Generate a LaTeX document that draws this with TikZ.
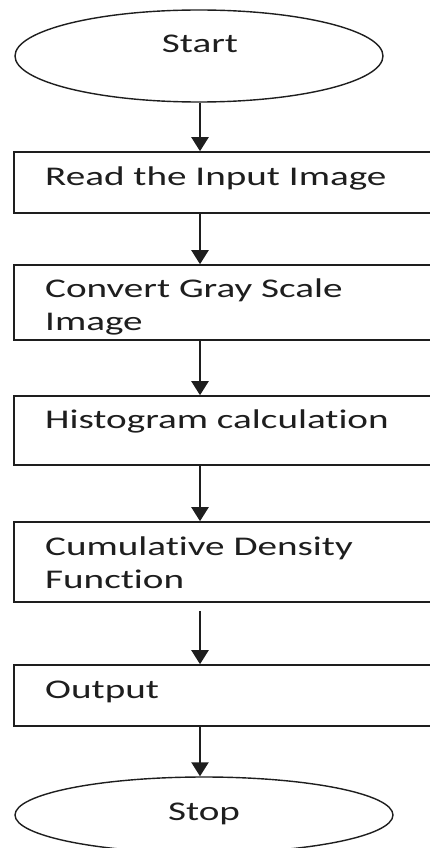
\documentclass[tikz,border=0pt]{standalone}
\usepackage{fontspec}
\setmainfont{Carlito}[Ligatures=NoCommon]
\usetikzlibrary{shapes.geometric,arrows.meta}
\newcommand{\widetxt}[1]{\scalebox{1.45}[1]{#1}}
\definecolor{ink}{HTML}{1E1E1E}
\tikzset{
  boxshape/.style={draw=ink, line width=1.6pt, rectangle, inner sep=0pt, minimum width=431pt},
  ovalshape/.style={draw=ink, line width=1.4pt, ellipse, inner sep=0pt},
  lbl/.style={inner sep=0pt, text=ink, font=\fontsize{27}{33}\selectfont, align=left, anchor=base west},
  clbl/.style={inner sep=0pt, text=ink, font=\fontsize{27}{33}\selectfont, anchor=base},
  flow/.style={draw=ink, line width=2.2pt, -{Triangle[width=17pt,length=14pt]}}
}
\begin{document}
\begin{tikzpicture}[x=1pt,y=-1pt]
\useasboundingbox (0,0) rectangle (430,848);
\clip (0,0) rectangle (430,848);
\fill[white] (0,0) rectangle (430,848);
% nodes
\node[ovalshape, minimum width=368pt, minimum height=92pt] (start) at (199,56) {};
\node[clbl] (startt) at (200,53) {\widetxt{Start}};
\node[boxshape, minimum height=61pt] (b1) at (229.5,182.5) {};
\node[lbl] (t1) at (45,185) {\widetxt{Read the Input Image}};
\node[boxshape, minimum height=75pt] (b2) at (229.5,302.5) {};
\node[lbl] (t2) at (45,330) {\widetxt{Convert Gray Scale}\\\widetxt{Image}};
\node[boxshape, minimum height=69pt] (b3) at (229.5,430.5) {};
\node[lbl] (t3) at (45,428) {\widetxt{Histogram calculation}};
\node[boxshape, minimum height=80pt] (b4) at (229.5,562) {};
\node[lbl] (t4) at (45,588) {\widetxt{Cumulative Density}\\\widetxt{Function}};
\node[boxshape, minimum height=61pt] (b5) at (229.5,695.5) {};
\node[lbl] (t5) at (45,698) {\widetxt{Output}};
\node[ovalshape, minimum width=378pt, minimum height=76pt] (stop) at (204,815) {};
\node[clbl] (stopt) at (204,820) {\widetxt{Stop}};
\coordinate (ax) at (200,0);
% connectors
\draw[flow] (start.south -| ax) -- (b1.north -| ax);
\draw[flow] (b1.south -| ax) -- (b2.north -| ax);
\draw[flow] (b2.south -| ax) -- (b3.north -| ax);
\draw[flow] (b3.south -| ax) -- (b4.north -| ax);
\draw[flow, shorten <=8pt] (b4.south -| ax) -- (b5.north -| ax);
\draw[flow] (b5.south -| ax) -- (stop.north -| ax);
\end{tikzpicture}
\end{document}
